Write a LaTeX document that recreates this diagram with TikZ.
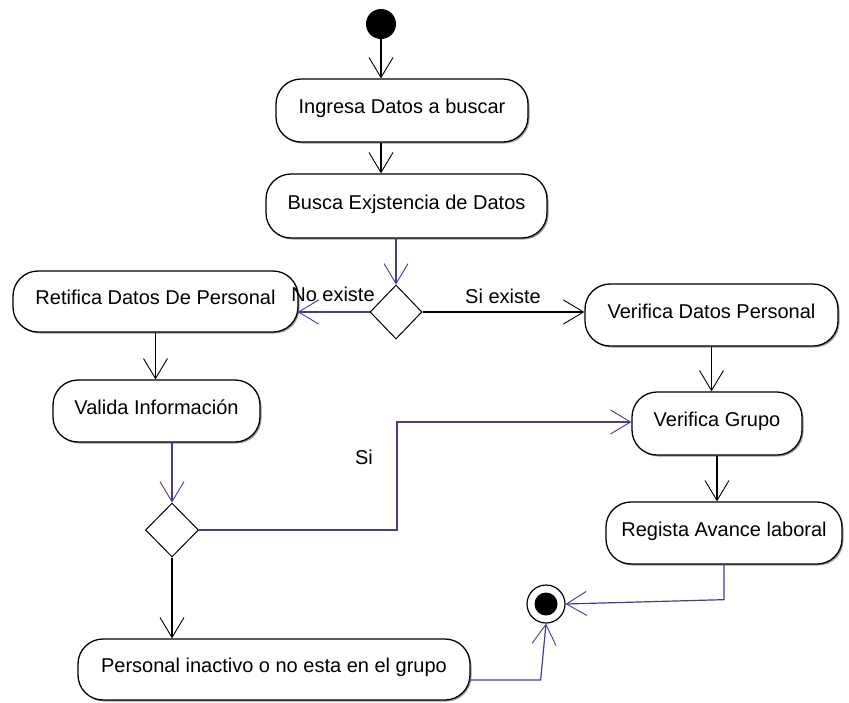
\documentclass[tikz,border=0pt]{standalone}
\usepackage{fontspec}
\setmainfont{Liberation Sans}
\usetikzlibrary{arrows.meta,shapes.geometric,shadows,calc}
\definecolor{flowblue}{RGB}{60,60,170}
\begin{document}
\begin{tikzpicture}[x=1pt,y=-1pt,
  every node/.style={font=\fontsize{20}{24}\selectfont},
  action/.style={draw=black, line width=1.3pt, fill=white, rounded corners=25pt,
    inner sep=0pt, text height=14pt, text depth=8pt,
    drop shadow={shadow xshift=1.5pt, shadow yshift=-1.5pt, fill=black!50, opacity=0.8}},
  decision/.style={draw=black, line width=1pt, fill=white, diamond, inner sep=0pt, aspect=1},
  flow/.style={draw=black, line width=1.2pt, -{Straight Barb[length=20pt,width=24pt,line width=0.9pt]}},
  bflow/.style={flow, draw=flowblue},
  guard/.style={inner sep=0pt}
]
\useasboundingbox (0,0) rectangle (849,702);

% initial and final states
\node[circle, fill=black, minimum size=30pt, inner sep=0pt] (start) at (381,24) {};
\node[circle, draw=black, line width=1.2pt, fill=white, minimum size=38pt, inner sep=0pt] (fin) at (546,604) {};
\fill[black] (fin.center) circle (11.5pt);

% actions
\node[action, minimum width=252pt, minimum height=63pt] (ing) at (402,110.5) {Ingresa Datos a buscar};
\node[action, minimum width=281pt, minimum height=64pt] (bus) at (406.5,206) {Busca Exjstencia de Datos};
\node[action, minimum width=285pt, minimum height=61pt] (ret) at (155.5,301.5) {Retifica Datos De Personal};
\node[action, minimum width=207pt, minimum height=62pt] (val) at (156.5,411) {Valida Información};
\node[action, minimum width=253pt, minimum height=62pt] (vdp) at (711.5,315) {Verifica Datos Personal};
\node[action, minimum width=170pt, minimum height=63pt] (vgr) at (717,423.5) {Verifica Grupo};
\node[action, minimum width=236pt, minimum height=62pt] (reg) at (724,533) {Regista Avance laboral};
\node[action, minimum width=392pt, minimum height=61pt] (per) at (274,669.5) {Personal inactivo o no esta en el grupo};

% decisions
\node[decision, minimum width=52pt, minimum height=54pt] (d1) at (396,312) {};
\node[decision, minimum width=53pt, minimum height=54pt] (d2) at (172,530) {};

% control flows
\draw[flow] (start) -- (start |- ing.north);
\draw[flow] (ing.south -| start) -- (bus.north -| start);
\draw[bflow] (bus.south -| d1) -- (d1.north);
\draw[bflow] (d1.west) -- ($(ret.east |- d1.west)+(-1,0)$);
\draw[flow] (d1.east) -- (d1.east -| vdp.west);
\draw[flow] (ret.south) -- (ret.south |- val.north);
\draw[flow] (vdp.south) -- (vdp.south |- vgr.north);
\draw[bflow] (val.south -| d2) -- (d2.north);
\draw[bflow] (d2.east) -- ++(198,0) |- ($(vgr.west)+(0,-1.5)$);
\draw[flow] (d2.south) -- (d2.south |- per.north);
\draw[flow] (vgr.south) -- (vgr.south |- reg.north);
\draw[bflow] (reg.south) -- ++(0,35) -- (fin.east);
\draw[bflow] ($(per.east)+(-2,10.5)$) -- ++(72,0) -- (fin.south);

% guards
\node[guard] (gno) at (333,294) {No existe};
\node[guard] (gsi) at (503,296) {Si existe};
\node[guard] (gs2) at (364,457) {Si};
\end{tikzpicture}
\end{document}
